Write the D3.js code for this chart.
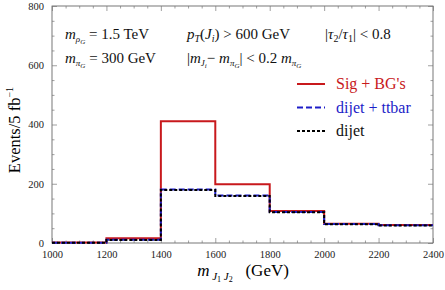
<!DOCTYPE html>
<html lang="en">
<head>
<meta charset="UTF-8">
<script src="https://d3js.org/d3.v7.min.js"></script>
<style>
  body { margin: 0; background: #fff; }
  svg text { font-family: "Liberation Serif", "Times New Roman", "DejaVu Serif", serif; }
  .tick text { font-size: 10.5px; fill: #222; }
</style>
</head>
<body>
<svg id="chart" width="445" height="290"></svg>
<script>
// bin edges in GeV and event counts per bin
const binEdges = [1000, 1200, 1400, 1600, 1800, 2000, 2200, 2400];
const sigBG = [2, 16, 411, 198, 108, 65, 61];
const dijetTtbar = [1, 11, 181, 160, 105, 64, 60];
const dijet = [1, 10, 179, 159, 104, 63, 59];
const xTicks = [1000, 1200, 1400, 1600, 1800, 2000, 2200, 2400];
const yTicks = [0, 200, 400, 600, 800];

const svg = d3.select("#chart");
const mLeft = 52, mRight = 433, mTop = 6, mBottom = 243;

const x = d3.scaleLinear().domain([1000, 2400]).range([mLeft, mRight]);
const y = d3.scaleLinear().domain([0, 800]).range([mBottom, mTop]);

// frame
svg.append("rect")
  .attr("x", mLeft).attr("y", mTop)
  .attr("width", mRight - mLeft).attr("height", mBottom - mTop)
  .attr("fill", "none").attr("stroke", "#555").attr("stroke-width", 0.8);

// ticks, pointing inward on all four sides
const xMinor = d3.range(1000, 2401, 50).filter(v => v % 200 !== 0);
const yMinor = d3.range(0, 801, 50).filter(v => v % 200 !== 0);
const fmt = d3.format("d");

svg.append("g").attr("transform", `translate(0,${mBottom})`)
  .call(d3.axisBottom(x).tickValues(xTicks).tickSize(-5).tickPadding(8).tickFormat(fmt).tickSizeOuter(0));
svg.append("g").attr("transform", `translate(0,${mBottom})`)
  .call(d3.axisBottom(x).tickValues(xMinor).tickSize(-2.5).tickFormat("").tickSizeOuter(0));
svg.append("g").attr("transform", `translate(0,${mTop})`)
  .call(d3.axisTop(x).tickValues(xTicks).tickSize(-5).tickFormat("").tickSizeOuter(0));
svg.append("g").attr("transform", `translate(0,${mTop})`)
  .call(d3.axisTop(x).tickValues(xMinor).tickSize(-2.5).tickFormat("").tickSizeOuter(0));

svg.append("g").attr("transform", `translate(${mLeft},0)`)
  .call(d3.axisLeft(y).tickValues(yTicks).tickSize(-5).tickPadding(8).tickFormat(fmt).tickSizeOuter(0));
svg.append("g").attr("transform", `translate(${mLeft},0)`)
  .call(d3.axisLeft(y).tickValues(yMinor).tickSize(-2.5).tickFormat("").tickSizeOuter(0));
svg.append("g").attr("transform", `translate(${mRight},0)`)
  .call(d3.axisRight(y).tickValues(yTicks).tickSize(-5).tickFormat("").tickSizeOuter(0));
svg.append("g").attr("transform", `translate(${mRight},0)`)
  .call(d3.axisRight(y).tickValues(yMinor).tickSize(-2.5).tickFormat("").tickSizeOuter(0));

svg.selectAll(".domain").remove();
svg.selectAll("g").attr("font-family", null);
svg.selectAll(".tick line").attr("stroke", "#777").attr("stroke-width", 0.7);

// step histograms
function stepPoints(vals) {
  const pts = [];
  vals.forEach((v, i) => {
    pts.push([binEdges[i], v]);
    pts.push([binEdges[i + 1], v]);
  });
  return pts;
}
const line = d3.line().x(d => x(d[0])).y(d => y(d[1]));

const series = [
  { vals: sigBG, color: "#c8191c", width: 2, dash: null },
  { vals: dijetTtbar, color: "#1d1dc8", width: 2, dash: "6,3" },
  { vals: dijet, color: "#000", width: 2, dash: "3,2" }
];
series.forEach(s => {
  svg.append("path")
    .attr("d", line(stepPoints(s.vals)))
    .attr("fill", "none")
    .attr("stroke", s.color)
    .attr("stroke-width", s.width)
    .attr("stroke-dasharray", s.dash);
});

// annotations
const ann = svg.append("g").attr("font-size", 15).attr("fill", "#111");
ann.append("text").attr("x", 65).attr("y", 39)
  .html('<tspan font-style="italic">m</tspan><tspan font-size="9" dy="3"><tspan font-style="italic">ρ</tspan><tspan font-size="7" font-style="italic" dy="2">G</tspan></tspan><tspan dy="-5"> = 1.5 TeV</tspan>');
ann.append("text").attr("x", 187).attr("y", 39)
  .html('<tspan font-style="italic">p</tspan><tspan font-size="10" font-style="italic" dy="3">T</tspan><tspan dy="-3">(</tspan><tspan font-style="italic">J</tspan><tspan font-size="10" font-style="italic" dy="3">i</tspan><tspan dy="-3">) &gt; 600 GeV</tspan>');
ann.append("text").attr("x", 325).attr("y", 39)
  .html('|<tspan font-style="italic">τ</tspan><tspan font-size="10" dy="3">2</tspan><tspan dy="-3">/</tspan><tspan font-style="italic">τ</tspan><tspan font-size="10" dy="3">1</tspan><tspan dy="-3">| &lt; 0.8</tspan>');
ann.append("text").attr("x", 65).attr("y", 63)
  .html('<tspan font-style="italic">m</tspan><tspan font-size="9" dy="3"><tspan font-style="italic">π</tspan><tspan font-size="7" font-style="italic" dy="2">G</tspan></tspan><tspan dy="-5"> = 300 GeV</tspan>');
ann.append("text").attr("x", 187).attr("y", 63)
  .html('|<tspan font-style="italic">m</tspan><tspan font-size="9" font-style="italic" dy="3">J</tspan><tspan font-size="7" font-style="italic" dy="2">i</tspan><tspan dy="-5">− </tspan><tspan font-style="italic">m</tspan><tspan font-size="9" dy="3"><tspan font-style="italic">π</tspan><tspan font-size="7" font-style="italic" dy="2">G</tspan></tspan><tspan dy="-5">| &lt; 0.2 </tspan><tspan font-style="italic">m</tspan><tspan font-size="9" dy="3"><tspan font-style="italic">π</tspan><tspan font-size="7" font-style="italic" dy="2">G</tspan></tspan>');

// legend
const legendLabels = ["Sig + BG's", "dijet + ttbar", "dijet"];
const legendColors = ["#c8191c", "#1d1dc8", "#111"];
const leg = svg.append("g");
legendLabels.forEach((lab, i) => {
  const ly = 84 + i * 23.5;
  leg.append("line")
    .attr("x1", 297).attr("x2", 325).attr("y1", ly).attr("y2", ly)
    .attr("stroke", series[i].color).attr("stroke-width", 2)
    .attr("stroke-dasharray", series[i].dash);
  leg.append("text")
    .attr("x", 336).attr("y", ly + 5)
    .attr("font-size", 16).attr("fill", legendColors[i])
    .text(lab);
});

// axis titles
svg.append("text").attr("x", 243).attr("y", 276).attr("text-anchor", "middle")
  .attr("font-size", 17)
  .html('<tspan font-style="italic">m</tspan><tspan font-size="11" font-style="italic" dy="4">&#160;J</tspan><tspan font-size="8" dy="2">1</tspan><tspan font-size="11" font-style="italic" dy="-2">&#160;J</tspan><tspan font-size="8" dy="2">2</tspan><tspan dy="-6">&#160;&#160;&#160;(GeV)</tspan>');

svg.append("text")
  .attr("transform", "translate(20,130) rotate(-90)")
  .attr("text-anchor", "middle").attr("font-size", 16.5)
  .html('Events/5 fb<tspan font-size="10" dy="-7">−1</tspan>');
</script>
</body>
</html>
